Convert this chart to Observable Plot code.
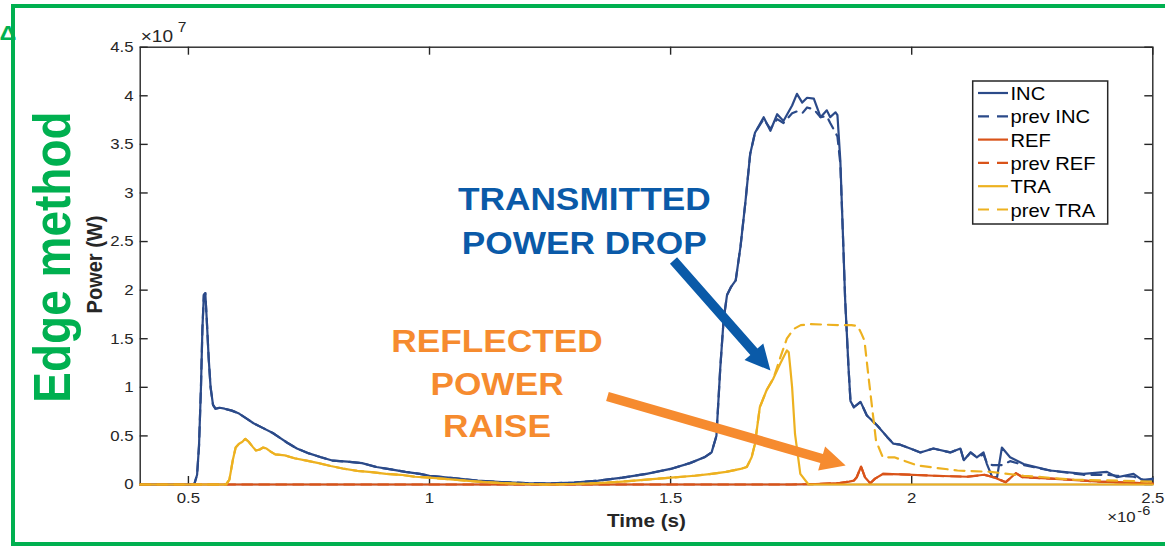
<!DOCTYPE html>
<html><head><meta charset="utf-8">
<script src="https://cdn.jsdelivr.net/npm/d3@7"></script>
<script src="https://cdn.jsdelivr.net/npm/@observablehq/plot@0.6"></script>
<style>
html,body{margin:0;padding:0;background:#fff;overflow:hidden;}
#wrap{position:relative;width:1165px;height:546px;overflow:hidden;background:#fff;}
#wrap svg{position:absolute;left:0;top:0;}
#border{position:absolute;left:11px;top:4px;width:1200px;height:542px;box-sizing:border-box;border:4px solid #00b050;pointer-events:none;}
</style></head><body><div id="wrap"><div id="border"></div></div>
<script>
// ---- data (time in units of 1e-6 s, power in units of 1e7 W) ----
const incT = [0.40,0.50,0.512,0.518,0.522,0.526,0.529,0.532,0.535,0.538,
  0.542,0.546,0.551,0.556,0.565,0.575,0.59,0.605,0.62,0.635,
  0.655,0.675,0.69,0.705,0.725,0.75,0.775,0.80,0.83,0.86,
  0.89,0.92,0.95,0.98,1.0,1.05,1.1,1.15,1.2,1.25,
  1.3,1.35,1.4,1.45,1.5,1.54,1.57,1.585,1.595,1.603,
  1.61,1.617,1.625,1.635,1.645,1.655,1.665,1.675,1.693,1.707,
  1.721,1.734,1.752,1.762,1.773,1.783,1.797,1.811,1.824,1.831,
  1.842,1.846,1.852,1.858,1.862,1.869,1.873,1.880,1.894,1.907,
  1.928,1.949,1.962,1.976,1.997,2.018,2.045,2.08,2.101,2.108,
  2.122,2.135,2.149,2.156,2.167,2.177,2.187,2.204,2.232,2.287,
  2.356,2.405,2.426,2.46,2.48,2.5];
const incV = [0,0,0,0.1,0.4,1.0,1.6,1.95,1.97,1.7,
  1.3,1.0,0.82,0.78,0.79,0.78,0.76,0.73,0.68,0.63,
  0.58,0.53,0.48,0.43,0.37,0.32,0.28,0.245,0.235,0.22,
  0.18,0.155,0.13,0.11,0.09,0.065,0.04,0.025,0.015,0.012,
  0.02,0.04,0.07,0.11,0.16,0.22,0.28,0.33,0.5,1.2,
  1.7,1.95,2.03,2.1,2.45,2.9,3.4,3.62,3.78,3.64,
  3.81,3.74,3.90,4.02,3.93,3.98,3.97,3.78,3.85,3.78,
  3.83,3.8,3.33,2.48,1.9,1.2,0.86,0.795,0.85,0.71,
  0.61,0.49,0.42,0.41,0.37,0.33,0.37,0.33,0.37,0.25,
  0.33,0.28,0.33,0.21,0.075,0.075,0.38,0.28,0.21,0.144,
  0.11,0.13,0.075,0.11,0.04,0.06];
const prevIncV = [0,0,0,0.1,0.4,1.0,1.6,1.95,1.97,1.7,
  1.3,1.0,0.82,0.78,0.79,0.78,0.76,0.73,0.68,0.63,
  0.58,0.53,0.48,0.43,0.37,0.32,0.28,0.245,0.235,0.22,
  0.18,0.155,0.13,0.11,0.09,0.065,0.04,0.025,0.015,0.012,
  0.02,0.04,0.07,0.11,0.16,0.22,0.28,0.33,0.5,1.2,
  1.7,1.95,2.03,2.1,2.45,2.9,3.4,3.62,3.76,3.66,
  3.76,3.72,3.82,3.84,3.82,3.88,3.86,3.78,3.79,3.72,
  3.62,3.58,3.3,2.48,1.9,1.2,0.86,0.795,0.85,0.71,
  0.61,0.49,0.42,0.41,0.37,0.33,0.37,0.33,0.37,0.25,
  0.33,0.28,0.31,0.22,0.2,0.2,0.2,0.24,0.2,0.144,
  0.1,0.1,0.09,0.08,0.05,0.05];
const refT = [0.40,1.75,1.80,1.85,1.87,1.88,1.886,1.895,1.903,1.914,1.924,1.941,1.978,2.047,2.116,2.15,2.17,2.195,2.216,2.23,2.29,2.39,2.5];
const refV = [0,0,0.005,0.015,0.03,0.04,0.075,0.185,0.075,0.013,0.06,0.11,0.105,0.09,0.08,0.1,0.075,0.024,0.116,0.075,0.06,0.03,0.01];
const prevRefV = [0,0,0.005,0.015,0.03,0.04,0.075,0.185,0.075,0.013,0.06,0.11,0.105,0.09,0.08,0.1,0.075,0.024,0.116,0.075,0.06,0.03,0.01];
const traT = [0.40,0.578,0.585,0.592,0.598,0.605,0.612,0.618,0.625,0.633,
  0.64,0.648,0.655,0.662,0.67,0.68,0.69,0.70,0.72,0.745,
  0.77,0.795,0.82,0.85,0.88,0.91,0.94,0.97,1.0,1.05,
  1.1,1.15,1.2,1.25,1.3,1.35,1.4,1.45,1.5,1.55,
  1.585,1.615,1.645,1.658,1.668,1.675,1.685,1.699,1.713,1.727,
  1.741,1.745,1.748,1.752,1.758,1.769,1.786,2.5];
const traV = [0,0,0.05,0.25,0.38,0.42,0.44,0.47,0.44,0.39,
  0.35,0.36,0.38,0.37,0.34,0.31,0.305,0.3,0.27,0.245,
  0.22,0.19,0.165,0.14,0.127,0.11,0.1,0.08,0.07,0.05,
  0.03,0.015,0.005,0,0.005,0.015,0.03,0.05,0.07,0.09,
  0.11,0.13,0.16,0.18,0.28,0.42,0.795,0.97,1.09,1.24,
  1.38,1.36,1.21,1.0,0.52,0.11,0,0];
const prevTraT = [0.40,0.578,0.585,0.592,0.598,0.605,0.612,0.618,0.625,0.633,
  0.64,0.648,0.655,0.662,0.67,0.68,0.69,0.70,0.72,0.745,
  0.77,0.795,0.82,0.85,0.88,0.91,0.94,0.97,1.0,1.05,
  1.1,1.15,1.2,1.25,1.3,1.35,1.4,1.45,1.5,1.55,
  1.585,1.615,1.645,1.658,1.668,1.675,1.685,1.699,1.713,1.727,
  1.741,1.755,1.77,1.79,1.82,1.85,1.875,1.888,1.896,1.902,
  1.912,1.926,1.94,1.964,2.012,2.095,2.164,2.232,2.336,2.5];
const prevTraV = [0,0,0.05,0.25,0.38,0.42,0.44,0.47,0.44,0.39,
  0.35,0.36,0.38,0.37,0.34,0.31,0.305,0.3,0.27,0.245,
  0.22,0.19,0.165,0.14,0.127,0.11,0.1,0.08,0.07,0.05,
  0.03,0.015,0.005,0,0.005,0.015,0.03,0.05,0.07,0.09,
  0.11,0.13,0.16,0.18,0.28,0.42,0.795,0.97,1.09,1.3,
  1.5,1.6,1.64,1.65,1.645,1.64,1.64,1.63,1.55,1.48,
  1.04,0.45,0.28,0.28,0.195,0.144,0.13,0.09,0.05,0.03];

const seriesNames = ["INC","prev INC","REF","prev REF","TRA","prev TRA"];
const seriesColors = ["#2b4a89","#2b4a89","#d95319","#d95319","#edb120","#edb120"];
const seriesDashed = [false,true,false,true,false,true];
const seriesT = [incT, incT, refT, refT, traT, prevTraT];
const seriesV = [incV, prevIncV, refV, prevRefV, traV, prevTraV];

const xTicks = [0.5,1,1.5,2,2.5];
const xTickLabels = ["0.5","1","1.5","2","2.5"];
const yTicks = [0,0.5,1,1.5,2,2.5,3,3.5,4,4.5];
const yTickLabels = ["0","0.5","1","1.5","2","2.5","3","3.5","4","4.5"];

const annotations = [
  {text: "TRANSMITTED\nPOWER DROP", x: 1.321, y: 2.374, color: "#0a5aa8", lineHeight: 1.4},
  {text: "REFLECTED\nPOWER\nRAISE", x: 1.140, y: 0.487, color: "#f68b2f", lineHeight: 1.35}
];
const arrows = [
  {x1: 1.506, y1: 2.305, x2: 1.707, y2: 1.173, color: "#0a5aa8"},
  {x1: 1.369, y1: 0.906, x2: 1.863, y2: 0.196, color: "#f68b2f"}
];

// ---- layout ----
const W = 1165, H = 546;
const ML = 139.7, MR = 12.7, MT = 46.7, MB = 62;
const plotW = W - ML - MR, plotH = H - MT - MB;
const xDomain = [0.4, 2.5], yDomain = [0, 4.5];
const FONT = '"Liberation Sans", Arial, Helvetica, sans-serif';
const INK = "#262626";
const STRETCH = 1.12;

const xs = Plot.scale({x: {domain: xDomain, range: [ML, W - MR]}});
const ys = Plot.scale({y: {domain: yDomain, range: [H - MB, MT]}});

function arrowPolygon(a, shaft = 9.5, head = 25, headWidth = 25) {
  const x0 = xs.apply(a.x1), y0 = ys.apply(a.y1), x1 = xs.apply(a.x2), y1 = ys.apply(a.y2);
  const dx = x1 - x0, dy = y1 - y0, len = Math.hypot(dx, dy);
  const ux = dx / len, uy = dy / len, nx = -uy, ny = ux;
  const bx = x1 - ux * head, by = y1 - uy * head;
  const s = shaft / 2, h = headWidth / 2;
  const pts = [[x0 + nx * s, y0 + ny * s], [bx + nx * s, by + ny * s], [bx + nx * h, by + ny * h],
    [x1, y1], [bx - nx * h, by - ny * h], [bx - nx * s, by - ny * s], [x0 - nx * s, y0 - ny * s]];
  return pts.map(([px, py]) => ({x: xs.invert(px), y: ys.invert(py)}));
}

const seriesMarks = seriesNames.map((name, k) => {
  const data = seriesT[k].map((t, i) => ({t, v: seriesV[k][i]}));
  return Plot.line(data, {x: "t", y: "v", stroke: seriesColors[k], strokeWidth: 2.2,
    strokeDasharray: seriesDashed[k] ? "10,7" : null, curve: "linear"});
});

const chart = Plot.plot({
  width: W, height: H,
  marginLeft: ML, marginRight: MR, marginTop: MT, marginBottom: MB,
  x: {domain: xDomain, label: null},
  y: {domain: yDomain, label: null},
  style: {fontFamily: FONT, fontSize: "15px", color: INK, background: "transparent", overflow: "visible"},
  marks: [
    Plot.frame({stroke: INK, strokeWidth: 1.4}),
    Plot.tickX(xTicks, {x: d => d, insetTop: plotH - 8, stroke: INK, strokeWidth: 1.4}),
    Plot.tickX(xTicks, {x: d => d, insetBottom: plotH - 8, stroke: INK, strokeWidth: 1.4}),
    Plot.tickY(yTicks, {y: d => d, insetRight: plotW - 8, stroke: INK, strokeWidth: 1.4}),
    Plot.tickY(yTicks, {y: d => d, insetLeft: plotW - 8, stroke: INK, strokeWidth: 1.4}),
    Plot.axisX(xTicks, {tickSize: 0, tickPadding: 8, fontSize: 15, tickFormat: d => xTickLabels[xTicks.indexOf(d)], label: null}),
    Plot.axisY(yTicks, {tickSize: 0, tickPadding: 6.7, fontSize: 15, tickFormat: d => yTickLabels[yTicks.indexOf(d)], label: null}),
    ...seriesMarks,
    ...arrows.map(a => Plot.line(arrowPolygon(a), {x: "x", y: "y", fill: a.color, stroke: "none", curve: "linear-closed"})),
    ...annotations.map(a => Plot.text([a], {x: "x", y: "y", text: "text", fill: a.color, fontSize: 31.5,
      fontWeight: "bold", textAnchor: "middle", lineAnchor: "bottom", lineHeight: a.lineHeight})),
    Plot.text(["Time (s)"], {text: d => d, frameAnchor: "bottom", dy: 42, textAnchor: "middle", lineAnchor: "bottom", fontWeight: "bold", fontSize: 18.5, fill: INK}),
    Plot.text(["Power (W)"], {text: d => d, frameAnchor: "left", dx: -45, dy: -1.3, rotate: -90, textAnchor: "middle", lineAnchor: "middle", fontWeight: "bold", fontSize: 20, fill: INK}),
    Plot.text(["Edge method"], {text: d => d, frameAnchor: "left", dx: -86.2, dy: -8.8, rotate: -90, textAnchor: "middle", lineAnchor: "middle", fontWeight: "bold", fontSize: 46, fill: "#00b050"}),
    Plot.text(["×10"], {text: d => d, frameAnchor: "top-left", dx: 0.5, dy: -5, textAnchor: "start", lineAnchor: "bottom", fontSize: 17, fill: INK}),
    Plot.text(["7"], {text: d => d, frameAnchor: "top-left", dx: 37.5, dy: -15, textAnchor: "start", lineAnchor: "bottom", fontSize: 14, fill: INK}),
    Plot.text(["×10"], {text: d => d, frameAnchor: "bottom-right", dx: -45.6, dy: 37.7, textAnchor: "start", lineAnchor: "bottom", fontSize: 15, fill: INK}),
    Plot.text(["-6"], {text: d => d, frameAnchor: "bottom-right", dx: -15.5, dy: 30.5, textAnchor: "start", lineAnchor: "bottom", fontSize: 13, fill: INK})
  ]
});

// legend + small marker drawn into the same svg
const svg = d3.select(chart);
const lg = svg.append("g").attr("font-family", FONT).attr("text-anchor", "start");
lg.append("rect").attr("x", 972.7).attr("y", 81).attr("width", 135).attr("height", 143)
  .attr("fill", "#fff").attr("stroke", INK).attr("stroke-width", 1.5);
seriesNames.forEach((name, k) => {
  const base = 100 + k * 23.3;
  lg.append("line").attr("x1", 978).attr("x2", 1008).attr("y1", base - 7).attr("y2", base - 7)
    .attr("stroke", seriesColors[k]).attr("stroke-width", 2.2)
    .attr("stroke-dasharray", seriesDashed[k] ? "11,8" : null);
  lg.append("text").attr("transform", `translate(1010.5,${base})`).attr("font-size", 18)
    .attr("text-anchor", "start").attr("fill", "#000").text(name);
});
svg.append("text").attr("transform", "translate(-0.5,40)")
  .attr("text-anchor", "start").style("font-family", FONT).style("font-size", "21px")
  .style("font-weight", "bold").attr("fill", "#00b050").text("Δ");

// the reference picture is slightly wider than tall: stretch glyphs horizontally
svg.selectAll("text").each(function () {
  const t = this.getAttribute("transform");
  if (!t || !t.includes("translate")) return;
  this.setAttribute("transform", t.includes("rotate")
    ? t.replace("rotate", `scale(${STRETCH},1) rotate`)
    : `${t} scale(${STRETCH},1)`);
});

document.getElementById("wrap").prepend(chart);
</script></body></html>
